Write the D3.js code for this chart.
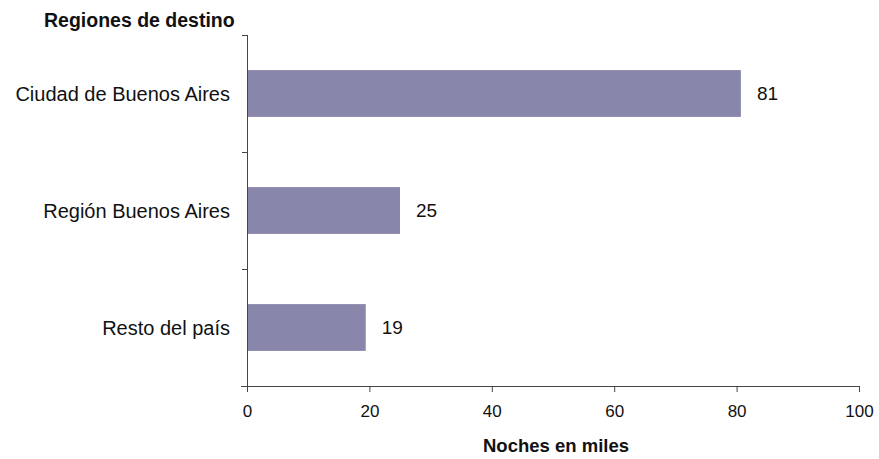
<!DOCTYPE html>
<html lang="es">
<head>
<meta charset="UTF-8">
<title>Noches por región de destino</title>
<script src="https://d3js.org/d3.v7.min.js"></script>
<style>
  body { margin: 0; background: #fff; }
  svg { font-family: "Liberation Sans", Arial, Helvetica, sans-serif; }
  .cat { font-size: 20px; fill: #111; }
  .val { font-size: 19px; fill: #111; }
  .tick-label { font-size: 17px; fill: #111; }
  .title { font-size: 19.5px; font-weight: bold; fill: #111; }
  .xtitle { font-size: 18.5px; font-weight: bold; fill: #111; }
</style>
</head>
<body>
<svg id="chart"></svg>
<script>
// data
const regions = ["Ciudad de Buenos Aires", "Región Buenos Aires", "Resto del país"];
const nights = [80.7, 25.0, 19.4];
const xTicks = [0, 20, 40, 60, 80, 100];

const W = 879, H = 459;
const m = { left: 247, right: 859, top: 35, bottom: 386 };

const svg = d3.select("#chart").attr("width", W).attr("height", H);

const x = d3.scaleLinear().domain([0, 100]).range([m.left, m.right]);
const y = d3.scaleBand().domain(regions).range([m.top, m.bottom])
  .paddingInner(0.6).paddingOuter(0.3);
const fmt = d3.format(".0f");

// bars
svg.selectAll("rect.bar").data(regions).enter().append("rect")
  .attr("class", "bar")
  .attr("x", x(0))
  .attr("y", d => y(d))
  .attr("width", (d, i) => x(nights[i]) - x(0))
  .attr("height", y.bandwidth())
  .attr("fill", "#8986ab");

// value labels
svg.selectAll("text.val").data(regions).enter().append("text")
  .attr("class", "val")
  .attr("x", (d, i) => x(nights[i]) + 16)
  .attr("y", d => y(d) + y.bandwidth() / 2)
  .attr("dy", "0.35em")
  .text((d, i) => fmt(nights[i]));

// x axis
const xAxis = svg.append("g")
  .attr("transform", `translate(0,${m.bottom})`)
  .call(d3.axisBottom(x).tickValues(xTicks).tickSize(6).tickPadding(13));
xAxis.select(".domain").attr("d", `M${m.left - 6},0.5H${m.right + 0.5}`);
xAxis.selectAll("text").attr("class", "tick-label").attr("font-size", null).attr("font-family", null);
xAxis.selectAll("path, line").attr("stroke", "#444");

// y axis: line plus ticks at band boundaries
const step = y.step();
const bounds = regions.map(d => y(d) - step * 0.3).concat([m.bottom]);
svg.append("line")
  .attr("x1", m.left + 0.5).attr("x2", m.left + 0.5)
  .attr("y1", m.top).attr("y2", m.bottom)
  .attr("stroke", "#444");
svg.selectAll("line.ytick").data(bounds).enter().append("line")
  .attr("class", "ytick")
  .attr("x1", m.left - 5).attr("x2", m.left)
  .attr("y1", d => Math.round(d) + 0.5).attr("y2", d => Math.round(d) + 0.5)
  .attr("stroke", "#444");

// category labels
svg.selectAll("text.cat").data(regions).enter().append("text")
  .attr("class", "cat")
  .attr("x", m.left - 17)
  .attr("y", d => y(d) + y.bandwidth() / 2)
  .attr("dy", "0.35em")
  .attr("text-anchor", "end")
  .text(d => d);

// titles
svg.append("text").attr("class", "title")
  .attr("x", 44).attr("y", 27)
  .text("Regiones de destino");
svg.append("text").attr("class", "xtitle")
  .attr("x", (m.left + m.right) / 2 + 3).attr("y", 452)
  .attr("text-anchor", "middle")
  .text("Noches en miles");
</script>
</body>
</html>
